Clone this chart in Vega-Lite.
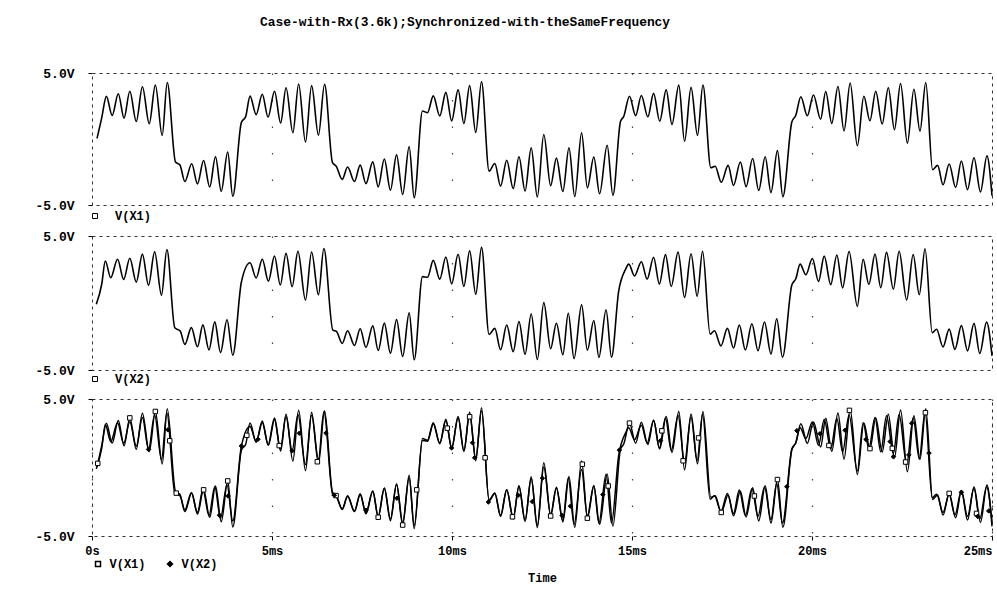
{
  "$schema": "https://vega.github.io/schema/vega-lite/v6.json",
  "background": "white",
  "padding": {"left": 34, "right": 4, "top": 15, "bottom": 0},
  "title": {
    "text": "Case-with-Rx(3.6k);Synchronized-with-theSameFrequency",
    "font": "Liberation Mono",
    "fontSize": 12.9,
    "fontWeight": "bold",
    "color": "#000",
    "anchor": "middle",
    "dx": -50,
    "offset": 38
  },
  "config": {
    "view": {"stroke": "#333", "strokeDash": [3, 4], "strokeWidth": 1},
    "axis": {
      "labelFont": "Liberation Mono",
      "labelFontSize": 12,
      "labelFontWeight": "bold",
      "labelColor": "#000",
      "titleFont": "Liberation Mono",
      "titleFontSize": 12,
      "titleFontWeight": "bold",
      "titleColor": "#000",
      "tickColor": "#000"
    },
    "legend": {
      "labelFont": "Liberation Mono",
      "labelFontSize": 12,
      "labelFontWeight": "bold",
      "labelColor": "#000",
      "padding": 0
    }
  },
  "datasets": {
    "traces": [
      {"s":"V(X1)","t":0.14,"v":0.05},{"s":"V(X1)","t":0.27,"v":1.6},{"s":"V(X1)","t":0.40,"v":3.23},{"s":"V(X1)","t":0.56,"v":1.78},{"s":"V(X1)","t":0.73,"v":3.43},{"s":"V(X1)","t":0.89,"v":1.58},{"s":"V(X1)","t":1.05,"v":3.62},{"s":"V(X1)","t":1.23,"v":1.33},{"s":"V(X1)","t":1.40,"v":3.96},{"s":"V(X1)","t":1.59,"v":1.16},{"s":"V(X1)","t":1.76,"v":4.09},{"s":"V(X1)","t":1.95,"v":0.26},{"s":"V(X1)","t":2.09,"v":4.28},{"s":"V(X1)","t":2.32,"v":-1.75},{"s":"V(X1)","t":2.44,"v":-1.95},{"s":"V(X1)","t":2.58,"v":-3.22},{"s":"V(X1)","t":2.77,"v":-1.87},{"s":"V(X1)","t":2.93,"v":-3.40},{"s":"V(X1)","t":3.10,"v":-1.63},{"s":"V(X1)","t":3.27,"v":-3.64},{"s":"V(X1)","t":3.43,"v":-1.35},{"s":"V(X1)","t":3.59,"v":-3.96},{"s":"V(X1)","t":3.77,"v":-0.98},{"s":"V(X1)","t":3.91,"v":-4.34},{"s":"V(X1)","t":4.15,"v":1.26},{"s":"V(X1)","t":4.27,"v":1.70},{"s":"V(X1)","t":4.39,"v":3.25},{"s":"V(X1)","t":4.56,"v":1.85},{"s":"V(X1)","t":4.73,"v":3.39},{"s":"V(X1)","t":4.89,"v":1.65},{"s":"V(X1)","t":5.07,"v":3.62},{"s":"V(X1)","t":5.24,"v":1.21},{"s":"V(X1)","t":5.39,"v":3.88},{"s":"V(X1)","t":5.58,"v":0.47},{"s":"V(X1)","t":5.74,"v":4.17},{"s":"V(X1)","t":5.93,"v":-0.23},{"s":"V(X1)","t":6.10,"v":4.04},{"s":"V(X1)","t":6.29,"v":0.29},{"s":"V(X1)","t":6.46,"v":4.15},{"s":"V(X1)","t":6.68,"v":-1.79},{"s":"V(X1)","t":6.78,"v":-2.05},{"s":"V(X1)","t":6.95,"v":-3.06},{"s":"V(X1)","t":7.10,"v":-2.12},{"s":"V(X1)","t":7.29,"v":-3.22},{"s":"V(X1)","t":7.45,"v":-1.98},{"s":"V(X1)","t":7.61,"v":-3.38},{"s":"V(X1)","t":7.80,"v":-1.73},{"s":"V(X1)","t":7.95,"v":-3.63},{"s":"V(X1)","t":8.12,"v":-1.52},{"s":"V(X1)","t":8.29,"v":-3.88},{"s":"V(X1)","t":8.46,"v":-1.20},{"s":"V(X1)","t":8.63,"v":-4.20},{"s":"V(X1)","t":8.81,"v":-0.57},{"s":"V(X1)","t":8.95,"v":-4.45},{"s":"V(X1)","t":9.18,"v":2.12},{"s":"V(X1)","t":9.32,"v":1.99},{"s":"V(X1)","t":9.48,"v":3.27},{"s":"V(X1)","t":9.66,"v":1.74},{"s":"V(X1)","t":9.83,"v":3.53},{"s":"V(X1)","t":9.99,"v":1.37},{"s":"V(X1)","t":10.17,"v":3.72},{"s":"V(X1)","t":10.33,"v":1.17},{"s":"V(X1)","t":10.49,"v":4.04},{"s":"V(X1)","t":10.66,"v":0.49},{"s":"V(X1)","t":10.82,"v":4.36},{"s":"V(X1)","t":11.03,"v":-2.43},{"s":"V(X1)","t":11.19,"v":-1.86},{"s":"V(X1)","t":11.35,"v":-3.57},{"s":"V(X1)","t":11.52,"v":-1.61},{"s":"V(X1)","t":11.70,"v":-3.76},{"s":"V(X1)","t":11.86,"v":-1.34},{"s":"V(X1)","t":12.03,"v":-3.94},{"s":"V(X1)","t":12.20,"v":-0.67},{"s":"V(X1)","t":12.37,"v":-4.39},{"s":"V(X1)","t":12.55,"v":0.34},{"s":"V(X1)","t":12.74,"v":-3.54},{"s":"V(X1)","t":12.90,"v":-1.45},{"s":"V(X1)","t":13.08,"v":-3.97},{"s":"V(X1)","t":13.25,"v":-0.66},{"s":"V(X1)","t":13.41,"v":-4.37},{"s":"V(X1)","t":13.60,"v":0.47},{"s":"V(X1)","t":13.76,"v":-3.70},{"s":"V(X1)","t":13.94,"v":-1.36},{"s":"V(X1)","t":14.10,"v":-4.15},{"s":"V(X1)","t":14.31,"v":-0.47},{"s":"V(X1)","t":14.47,"v":-4.27},{"s":"V(X1)","t":14.68,"v":1.33},{"s":"V(X1)","t":14.77,"v":1.71},{"s":"V(X1)","t":14.93,"v":3.24},{"s":"V(X1)","t":15.10,"v":1.77},{"s":"V(X1)","t":15.26,"v":3.30},{"s":"V(X1)","t":15.44,"v":1.68},{"s":"V(X1)","t":15.60,"v":3.46},{"s":"V(X1)","t":15.77,"v":1.35},{"s":"V(X1)","t":15.95,"v":3.72},{"s":"V(X1)","t":16.11,"v":1.10},{"s":"V(X1)","t":16.30,"v":4.08},{"s":"V(X1)","t":16.46,"v":-0.17},{"s":"V(X1)","t":16.64,"v":3.91},{"s":"V(X1)","t":16.82,"v":0.27},{"s":"V(X1)","t":16.97,"v":4.09},{"s":"V(X1)","t":17.19,"v":-2.18},{"s":"V(X1)","t":17.31,"v":-2.06},{"s":"V(X1)","t":17.48,"v":-3.28},{"s":"V(X1)","t":17.67,"v":-2.00},{"s":"V(X1)","t":17.82,"v":-3.52},{"s":"V(X1)","t":18.01,"v":-1.74},{"s":"V(X1)","t":18.17,"v":-3.61},{"s":"V(X1)","t":18.35,"v":-1.48},{"s":"V(X1)","t":18.52,"v":-3.90},{"s":"V(X1)","t":18.70,"v":-1.34},{"s":"V(X1)","t":18.86,"v":-4.06},{"s":"V(X1)","t":19.04,"v":-0.88},{"s":"V(X1)","t":19.19,"v":-4.37},{"s":"V(X1)","t":19.44,"v":1.29},{"s":"V(X1)","t":19.55,"v":1.80},{"s":"V(X1)","t":19.69,"v":3.20},{"s":"V(X1)","t":19.87,"v":1.76},{"s":"V(X1)","t":20.04,"v":3.33},{"s":"V(X1)","t":20.24,"v":1.50},{"s":"V(X1)","t":20.38,"v":3.60},{"s":"V(X1)","t":20.55,"v":1.18},{"s":"V(X1)","t":20.72,"v":3.98},{"s":"V(X1)","t":20.89,"v":0.61},{"s":"V(X1)","t":21.06,"v":4.24},{"s":"V(X1)","t":21.26,"v":-0.51},{"s":"V(X1)","t":21.44,"v":3.24},{"s":"V(X1)","t":21.61,"v":1.38},{"s":"V(X1)","t":21.77,"v":3.62},{"s":"V(X1)","t":21.95,"v":1.14},{"s":"V(X1)","t":22.12,"v":3.88},{"s":"V(X1)","t":22.29,"v":0.70},{"s":"V(X1)","t":22.46,"v":4.20},{"s":"V(X1)","t":22.65,"v":-0.31},{"s":"V(X1)","t":22.83,"v":3.77},{"s":"V(X1)","t":23.00,"v":0.60},{"s":"V(X1)","t":23.16,"v":4.28},{"s":"V(X1)","t":23.35,"v":-2.33},{"s":"V(X1)","t":23.49,"v":-2.00},{"s":"V(X1)","t":23.64,"v":-3.47},{"s":"V(X1)","t":23.81,"v":-1.89},{"s":"V(X1)","t":23.99,"v":-3.67},{"s":"V(X1)","t":24.15,"v":-1.67},{"s":"V(X1)","t":24.32,"v":-3.84},{"s":"V(X1)","t":24.50,"v":-1.42},{"s":"V(X1)","t":24.68,"v":-4.01},{"s":"V(X1)","t":24.86,"v":-1.28},{"s":"V(X1)","t":25.00,"v":-4.30},
      {"s":"V(X2)","t":0.12,"v":-0.10},{"s":"V(X2)","t":0.27,"v":1.40},{"s":"V(X2)","t":0.37,"v":3.13},{"s":"V(X2)","t":0.52,"v":1.88},{"s":"V(X2)","t":0.71,"v":3.26},{"s":"V(X2)","t":0.88,"v":1.76},{"s":"V(X2)","t":1.05,"v":3.34},{"s":"V(X2)","t":1.23,"v":1.56},{"s":"V(X2)","t":1.40,"v":3.65},{"s":"V(X2)","t":1.57,"v":1.32},{"s":"V(X2)","t":1.74,"v":3.83},{"s":"V(X2)","t":1.93,"v":0.58},{"s":"V(X2)","t":2.08,"v":3.99},{"s":"V(X2)","t":2.30,"v":-1.85},{"s":"V(X2)","t":2.45,"v":-2.09},{"s":"V(X2)","t":2.58,"v":-3.09},{"s":"V(X2)","t":2.76,"v":-1.84},{"s":"V(X2)","t":2.93,"v":-3.27},{"s":"V(X2)","t":3.08,"v":-1.63},{"s":"V(X2)","t":3.25,"v":-3.51},{"s":"V(X2)","t":3.41,"v":-1.41},{"s":"V(X2)","t":3.57,"v":-3.70},{"s":"V(X2)","t":3.75,"v":-1.25},{"s":"V(X2)","t":3.91,"v":-3.90},{"s":"V(X2)","t":4.15,"v":1.57},{"s":"V(X2)","t":4.39,"v":3.00},{"s":"V(X2)","t":4.56,"v":1.87},{"s":"V(X2)","t":4.73,"v":3.26},{"s":"V(X2)","t":4.90,"v":1.63},{"s":"V(X2)","t":5.07,"v":3.51},{"s":"V(X2)","t":5.23,"v":1.34},{"s":"V(X2)","t":5.39,"v":3.70},{"s":"V(X2)","t":5.56,"v":1.22},{"s":"V(X2)","t":5.72,"v":3.86},{"s":"V(X2)","t":5.93,"v":0.22},{"s":"V(X2)","t":6.10,"v":3.81},{"s":"V(X2)","t":6.29,"v":0.61},{"s":"V(X2)","t":6.44,"v":4.07},{"s":"V(X2)","t":6.69,"v":-2.02},{"s":"V(X2)","t":6.79,"v":-2.12},{"s":"V(X2)","t":6.95,"v":-3.02},{"s":"V(X2)","t":7.10,"v":-2.07},{"s":"V(X2)","t":7.29,"v":-3.17},{"s":"V(X2)","t":7.45,"v":-1.92},{"s":"V(X2)","t":7.61,"v":-3.31},{"s":"V(X2)","t":7.80,"v":-1.71},{"s":"V(X2)","t":7.95,"v":-3.55},{"s":"V(X2)","t":8.12,"v":-1.50},{"s":"V(X2)","t":8.29,"v":-3.75},{"s":"V(X2)","t":8.46,"v":-1.24},{"s":"V(X2)","t":8.63,"v":-3.99},{"s":"V(X2)","t":8.81,"v":-0.74},{"s":"V(X2)","t":8.95,"v":-4.24},{"s":"V(X2)","t":9.18,"v":1.97},{"s":"V(X2)","t":9.32,"v":1.92},{"s":"V(X2)","t":9.48,"v":3.18},{"s":"V(X2)","t":9.66,"v":1.78},{"s":"V(X2)","t":9.83,"v":3.43},{"s":"V(X2)","t":9.99,"v":1.43},{"s":"V(X2)","t":10.17,"v":3.64},{"s":"V(X2)","t":10.33,"v":1.24},{"s":"V(X2)","t":10.49,"v":3.89},{"s":"V(X2)","t":10.66,"v":0.65},{"s":"V(X2)","t":10.82,"v":4.15},{"s":"V(X2)","t":11.03,"v":-2.35},{"s":"V(X2)","t":11.19,"v":-1.89},{"s":"V(X2)","t":11.35,"v":-3.49},{"s":"V(X2)","t":11.52,"v":-1.64},{"s":"V(X2)","t":11.70,"v":-3.63},{"s":"V(X2)","t":11.86,"v":-1.38},{"s":"V(X2)","t":12.03,"v":-3.83},{"s":"V(X2)","t":12.20,"v":-0.82},{"s":"V(X2)","t":12.37,"v":-4.22},{"s":"V(X2)","t":12.55,"v":0.03},{"s":"V(X2)","t":12.74,"v":-3.41},{"s":"V(X2)","t":12.90,"v":-1.51},{"s":"V(X2)","t":13.08,"v":-3.86},{"s":"V(X2)","t":13.23,"v":-0.76},{"s":"V(X2)","t":13.39,"v":-4.15},{"s":"V(X2)","t":13.60,"v":-0.14},{"s":"V(X2)","t":13.76,"v":-3.52},{"s":"V(X2)","t":13.94,"v":-1.31},{"s":"V(X2)","t":14.08,"v":-4.06},{"s":"V(X2)","t":14.28,"v":-0.50},{"s":"V(X2)","t":14.43,"v":-4.05},{"s":"V(X2)","t":14.63,"v":0.89},{"s":"V(X2)","t":14.82,"v":2.51},{"s":"V(X2)","t":14.91,"v":2.90},{"s":"V(X2)","t":15.07,"v":2.02},{"s":"V(X2)","t":15.26,"v":3.08},{"s":"V(X2)","t":15.42,"v":1.78},{"s":"V(X2)","t":15.60,"v":3.41},{"s":"V(X2)","t":15.76,"v":1.41},{"s":"V(X2)","t":15.93,"v":3.61},{"s":"V(X2)","t":16.09,"v":1.24},{"s":"V(X2)","t":16.28,"v":3.80},{"s":"V(X2)","t":16.46,"v":0.41},{"s":"V(X2)","t":16.64,"v":3.68},{"s":"V(X2)","t":16.81,"v":0.50},{"s":"V(X2)","t":16.96,"v":3.86},{"s":"V(X2)","t":17.17,"v":-2.32},{"s":"V(X2)","t":17.29,"v":-2.07},{"s":"V(X2)","t":17.47,"v":-3.20},{"s":"V(X2)","t":17.65,"v":-1.89},{"s":"V(X2)","t":17.82,"v":-3.36},{"s":"V(X2)","t":17.98,"v":-1.64},{"s":"V(X2)","t":18.15,"v":-3.51},{"s":"V(X2)","t":18.33,"v":-1.55},{"s":"V(X2)","t":18.50,"v":-3.56},{"s":"V(X2)","t":18.68,"v":-1.42},{"s":"V(X2)","t":18.86,"v":-3.80},{"s":"V(X2)","t":19.02,"v":-1.17},{"s":"V(X2)","t":19.18,"v":-4.05},{"s":"V(X2)","t":19.44,"v":1.35},{"s":"V(X2)","t":19.55,"v":1.81},{"s":"V(X2)","t":19.67,"v":2.90},{"s":"V(X2)","t":19.83,"v":2.11},{"s":"V(X2)","t":20.01,"v":3.32},{"s":"V(X2)","t":20.18,"v":1.61},{"s":"V(X2)","t":20.34,"v":3.50},{"s":"V(X2)","t":20.52,"v":1.37},{"s":"V(X2)","t":20.69,"v":3.58},{"s":"V(X2)","t":20.85,"v":1.13},{"s":"V(X2)","t":21.03,"v":3.84},{"s":"V(X2)","t":21.26,"v":-0.25},{"s":"V(X2)","t":21.42,"v":3.27},{"s":"V(X2)","t":21.58,"v":1.39},{"s":"V(X2)","t":21.75,"v":3.65},{"s":"V(X2)","t":21.91,"v":1.15},{"s":"V(X2)","t":22.07,"v":3.78},{"s":"V(X2)","t":22.26,"v":1.03},{"s":"V(X2)","t":22.42,"v":3.86},{"s":"V(X2)","t":22.63,"v":0.23},{"s":"V(X2)","t":22.81,"v":3.62},{"s":"V(X2)","t":22.98,"v":0.62},{"s":"V(X2)","t":23.14,"v":4.05},{"s":"V(X2)","t":23.34,"v":-2.21},{"s":"V(X2)","t":23.46,"v":-1.96},{"s":"V(X2)","t":23.64,"v":-3.28},{"s":"V(X2)","t":23.81,"v":-1.95},{"s":"V(X2)","t":23.97,"v":-3.46},{"s":"V(X2)","t":24.15,"v":-1.69},{"s":"V(X2)","t":24.32,"v":-3.57},{"s":"V(X2)","t":24.50,"v":-1.52},{"s":"V(X2)","t":24.66,"v":-3.76},{"s":"V(X2)","t":24.85,"v":-1.43},{"s":"V(X2)","t":25.00,"v":-3.94}
    ],
    "markers": [
      {"s":"V(X1)","t":0.16,"v":0.3},{"s":"V(X1)","t":1.05,"v":3.62},{"s":"V(X1)","t":1.76,"v":4.09},{"s":"V(X1)","t":2.16,"v":1.95},{"s":"V(X1)","t":2.34,"v":-1.87},{"s":"V(X1)","t":3.10,"v":-1.63},{"s":"V(X1)","t":3.77,"v":-0.98},{"s":"V(X1)","t":4.30,"v":2.35},{"s":"V(X1)","t":5.20,"v":1.6},{"s":"V(X1)","t":6.26,"v":0.42},{"s":"V(X1)","t":6.78,"v":-2.05},{"s":"V(X1)","t":7.95,"v":-3.63},{"s":"V(X1)","t":8.63,"v":-4.20},{"s":"V(X1)","t":9.02,"v":-1.63},{"s":"V(X1)","t":9.87,"v":2.87},{"s":"V(X1)","t":10.49,"v":3.70},{"s":"V(X1)","t":10.92,"v":0.71},{"s":"V(X1)","t":11.68,"v":-3.6},{"s":"V(X1)","t":12.74,"v":-3.54},{"s":"V(X1)","t":13.62,"v":0.24},{"s":"V(X1)","t":13.76,"v":-3.70},{"s":"V(X1)","t":14.34,"v":-1.35},{"s":"V(X1)","t":14.93,"v":3.24},{"s":"V(X1)","t":15.83,"v":2.68},{"s":"V(X1)","t":16.42,"v":0.49},{"s":"V(X1)","t":16.85,"v":2.16},{"s":"V(X1)","t":17.48,"v":-3.28},{"s":"V(X1)","t":18.40,"v":-2.08},{"s":"V(X1)","t":19.04,"v":-0.88},{"s":"V(X1)","t":20.47,"v":1.61},{"s":"V(X1)","t":21.04,"v":4.17},{"s":"V(X1)","t":21.61,"v":1.38},{"s":"V(X1)","t":22.23,"v":1.40},{"s":"V(X1)","t":22.60,"v":0.40},{"s":"V(X1)","t":23.15,"v":4.0},{"s":"V(X1)","t":23.81,"v":-1.89},{"s":"V(X1)","t":24.57,"v":-3.35},
      {"s":"V(X2)","t":1.57,"v":1.32},{"s":"V(X2)","t":2.11,"v":2.75},{"s":"V(X2)","t":3.54,"v":-3.48},{"s":"V(X2)","t":3.78,"v":-2.08},{"s":"V(X2)","t":4.15,"v":1.57},{"s":"V(X2)","t":4.61,"v":2.06},{"s":"V(X2)","t":5.56,"v":1.22},{"s":"V(X2)","t":5.76,"v":2.50},{"s":"V(X2)","t":6.50,"v":2.51},{"s":"V(X2)","t":6.73,"v":-2.03},{"s":"V(X2)","t":7.61,"v":-3.12},{"s":"V(X2)","t":8.47,"v":-2.24},{"s":"V(X2)","t":9.99,"v":1.43},{"s":"V(X2)","t":10.57,"v":1.81},{"s":"V(X2)","t":10.63,"v":0.71},{"s":"V(X2)","t":11.01,"v":-2.52},{"s":"V(X2)","t":11.84,"v":-2.02},{"s":"V(X2)","t":12.23,"v":-2.49},{"s":"V(X2)","t":12.51,"v":-0.78},{"s":"V(X2)","t":13.06,"v":-3.51},{"s":"V(X2)","t":13.29,"v":-2.82},{"s":"V(X2)","t":14.19,"v":-1.98},{"s":"V(X2)","t":14.65,"v":1.27},{"s":"V(X2)","t":15.79,"v":1.95},{"s":"V(X2)","t":19.30,"v":-1.40},{"s":"V(X2)","t":19.58,"v":2.69},{"s":"V(X2)","t":20.22,"v":2.46},{"s":"V(X2)","t":20.92,"v":2.72},{"s":"V(X2)","t":21.50,"v":2.05},{"s":"V(X2)","t":22.17,"v":1.89},{"s":"V(X2)","t":22.26,"v":0.79},{"s":"V(X2)","t":22.69,"v":0.92},{"s":"V(X2)","t":22.77,"v":3.23},{"s":"V(X2)","t":23.25,"v":1.05},{"s":"V(X2)","t":24.15,"v":-1.81},{"s":"V(X2)","t":24.60,"v":-3.57},{"s":"V(X2)","t":24.91,"v":-3.17}
    ]
  },
  "spacing": 6,
  "resolve": {
    "scale": {"color": "independent", "shape": "independent", "fill": "independent"},
    "legend": {"color": "independent", "shape": "independent", "fill": "independent"}
  },
  "vconcat": [
    {
      "width": 900,
      "height": 132,
      "data": {"name": "traces"},
      "transform": [{"filter": "datum.s == 'V(X1)'"}],
      "mark": {"type": "line", "interpolate": "monotone", "strokeWidth": 1.6},
      "encoding": {
        "x": {"field": "t", "type": "quantitative", "scale": {"domain": [0, 25], "nice": false, "zero": false},
          "axis": {"values": [5, 10, 15, 20], "labels": false, "ticks": false, "domain": false, "title": null, "grid": true, "gridColor": "#444", "gridDash": [1.5, 25], "gridWidth": 1.2}},
        "y": {"field": "v", "type": "quantitative", "scale": {"domain": [-5, 5], "nice": false},
          "axis": {"values": [-5, 5], "labelExpr": "datum.value > 0 ? '5.0V' : '-5.0V'", "labelFontSize": 13, "title": null, "domain": false, "grid": false, "tickSize": 4, "labelPadding": 14}},
        "color": {"field": "s", "type": "nominal", "scale": {"range": ["#000000"]},
          "legend": {"orient": "none", "legendX": -3, "legendY": 137, "title": null, "symbolType": "square", "symbolSize": 25, "symbolFillColor": "#ffffff", "symbolStrokeColor": "#000000", "symbolStrokeWidth": 1, "labelOffset": 14,
            "encode": {"symbols": {"update": {"stroke": {"value": "#000"}, "strokeWidth": {"value": 1}, "fill": {"value": "#fff"}}}}}}
      }
    },
    {
      "width": 900,
      "height": 134,
      "data": {"name": "traces"},
      "transform": [{"filter": "datum.s == 'V(X2)'"}],
      "mark": {"type": "line", "interpolate": "monotone", "strokeWidth": 1.6},
      "encoding": {
        "x": {"field": "t", "type": "quantitative", "scale": {"domain": [0, 25], "nice": false, "zero": false},
          "axis": {"values": [5, 10, 15, 20], "labels": false, "ticks": false, "domain": false, "title": null, "grid": true, "gridColor": "#444", "gridDash": [1.5, 25], "gridWidth": 1.2}},
        "y": {"field": "v", "type": "quantitative", "scale": {"domain": [-5, 5], "nice": false},
          "axis": {"values": [-5, 5], "labelExpr": "datum.value > 0 ? '5.0V' : '-5.0V'", "labelFontSize": 13, "title": null, "domain": false, "grid": false, "tickSize": 4, "labelPadding": 14}},
        "color": {"field": "s", "type": "nominal", "scale": {"range": ["#000000"]},
          "legend": {"orient": "none", "legendX": -3, "legendY": 137, "title": null, "symbolType": "square", "symbolSize": 25, "symbolFillColor": "#ffffff", "symbolStrokeColor": "#000000", "symbolStrokeWidth": 1, "labelOffset": 14,
            "encode": {"symbols": {"update": {"stroke": {"value": "#000"}, "strokeWidth": {"value": 1}, "fill": {"value": "#fff"}}}}}}
      }
    },
    {
      "width": 900,
      "height": 137,
      "layer": [
        {
          "data": {"name": "traces"},
          "mark": {"type": "line", "interpolate": "monotone", "strokeWidth": 1.5, "color": "#000"},
          "encoding": {
            "x": {"field": "t", "type": "quantitative", "scale": {"domain": [0, 25], "nice": false, "zero": false},
              "axis": {"values": [0, 5, 10, 15, 20, 25], "labelExpr": "datum.value == 0 ? '0s' : datum.value + 'ms'",
                "labelAlign": {"condition": {"test": "datum.value == 25", "value": "right"}, "value": "center"},
                "ticks": true, "tickSize": 4, "labelPadding": 5, "domain": false, "title": "Time", "titlePadding": 16,
                "grid": true, "gridColor": "#444", "gridDash": [1.5, 25], "gridWidth": 1.2}},
            "y": {"field": "v", "type": "quantitative", "scale": {"domain": [-5, 5], "nice": false},
              "axis": {"values": [-5, 5], "labelExpr": "datum.value > 0 ? '5.0V' : '-5.0V'", "labelFontSize": 13, "title": null, "domain": false, "grid": false, "tickSize": 4, "labelPadding": 14}},
            "detail": {"field": "s"}
          }
        },
        {
          "data": {"name": "markers"},
          "mark": {"type": "point", "filled": true, "stroke": "#000", "strokeWidth": 1, "size": 20, "opacity": 1},
          "encoding": {
            "x": {"field": "t", "type": "quantitative"},
            "y": {"field": "v", "type": "quantitative"},
            "shape": {"field": "s", "type": "nominal", "scale": {"domain": ["V(X1)", "V(X2)"], "range": ["square", "diamond"]},
              "legend": {"orient": "none", "legendX": 0, "legendY": 159, "direction": "horizontal", "title": null, "columnPadding": 18, "labelOffset": 5.5, "symbolSize": 25,
                "encode": {"symbols": {"update": {"stroke": {"value": "#000"}, "strokeWidth": {"value": 1}}}}}},
            "fill": {"field": "s", "type": "nominal", "scale": {"domain": ["V(X1)", "V(X2)"], "range": ["#ffffff", "#000000"]},
              "legend": {"orient": "none", "legendX": 0, "legendY": 159, "direction": "horizontal", "title": null, "columnPadding": 18, "labelOffset": 5.5, "symbolSize": 25,
                "encode": {"symbols": {"update": {"stroke": {"value": "#000"}, "strokeWidth": {"value": 1}}}}}}
          }
        }
      ]
    }
  ]
}
